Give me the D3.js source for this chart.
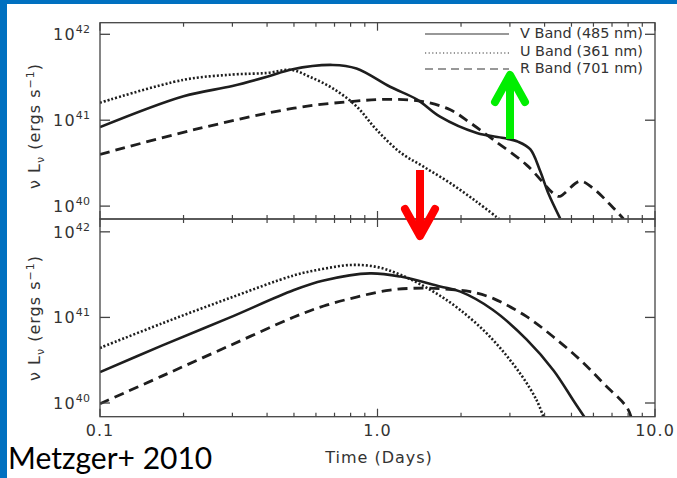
<!DOCTYPE html>
<html>
<head>
<meta charset="utf-8">
<script src="https://cdn.jsdelivr.net/npm/d3@7"></script>
<style>
  body { margin: 0; background: #0070c0; }
  svg { display: block; }
</style>
</head>
<body>
<div id="chart"></div>
<script>
// time in days, luminosity nu*L_nu in erg/s
var vTopT = [0.1, 0.2, 0.3, 0.4, 0.49, 0.69, 0.84, 1.11, 1.39, 1.68, 2.28, 2.85, 3.22, 3.55, 3.85, 4.13, 4.55];
var vTopL = [8.3e40, 1.9e41, 2.5e41, 3.2e41, 3.9e41, 4.4e41, 4.0e41, 2.45e41, 1.74e41, 1.1e41, 7.1e40, 6.2e40, 5.6e40, 4.6e40, 2.6e40, 1.4e40, 7.2e39];
var uTopT = [0.1, 0.2, 0.3, 0.4, 0.49, 0.57, 0.69, 0.84, 0.99, 1.21, 1.46, 1.83, 2.28, 2.74];
var uTopL = [1.6e41, 2.95e41, 3.4e41, 3.55e41, 3.85e41, 3.2e41, 2.35e41, 1.45e41, 7.8e40, 4.2e40, 2.9e40, 1.85e40, 1.12e40, 7.1e39];
var rTopT = [0.1, 0.22, 0.5, 0.8, 1.11, 1.46, 1.83, 2.16, 2.62, 3.45, 4.37, 4.55, 5.37, 6.0, 7.08, 7.7];
var rTopL = [4.0e40, 7.8e40, 1.38e41, 1.65e41, 1.75e41, 1.65e41, 1.32e41, 9.3e40, 5.9e40, 3.0e40, 1.35e40, 1.3e40, 1.95e40, 1.6e40, 9.5e39, 7.1e39];

var vBotT = [0.1, 0.167, 0.29, 0.5, 0.64, 0.94, 1.21, 1.68, 1.99, 2.6, 3.45, 4.31, 5.08, 5.56];
var vBotL = [2.3e40, 4.68e40, 9.8e40, 2.09e41, 2.7e41, 3.27e41, 3.0e41, 2.3e41, 2.0e41, 1.23e41, 5.5e40, 2.4e40, 1.07e40, 6.9e39];
var uBotT = [0.1, 0.167, 0.29, 0.5, 0.64, 0.8, 0.99, 1.21, 1.55, 1.95, 2.55, 3.27, 3.75, 3.96];
var uBotL = [4.4e40, 8.5e40, 1.66e41, 3.1e41, 3.7e41, 4.1e41, 3.9e41, 3.15e41, 2.1e41, 1.28e41, 5.9e40, 2.2e40, 1.07e40, 6.9e39];
var rBotT = [0.1, 0.167, 0.29, 0.5, 0.64, 0.84, 1.11, 1.46, 1.9, 2.16, 2.62, 3.45, 4.31, 5.37, 6.52, 7.92, 8.2];
var rBotL = [9.8e39, 2.06e40, 4.6e40, 1.01e41, 1.36e41, 1.73e41, 2.09e41, 2.2e41, 2.1e41, 2.0e41, 1.66e41, 1.02e41, 5.9e40, 3.2e40, 1.7e40, 8.9e39, 6.9e39];

var xTickLabels = ["0.1", "1.0", "10.0"];
var yTickExps = [42, 41, 40];
var legendNames = ["V Band (485 nm)", "U Band (361 nm)", "R Band (701 nm)"];

var w = 677, h = 478;
var left = 100, right = 655;

var svg = d3.select("#chart").append("svg")
  .attr("width", w).attr("height", h);

svg.append("rect").attr("x", 7).attr("y", 4).attr("width", w - 7).attr("height", h - 4).attr("fill", "#fff");

var x = d3.scaleLog().domain([0.1, 10]).range([left, right]);

var styles = [
  {dash: null, width: 2.6},
  {dash: "2,2", width: 2.6},
  {dash: "10,6", width: 2.8}
];

var panels = [
  {top: 22.7, bottom: 219, dom: [Math.pow(10, 39.85), Math.pow(10, 42.135)],
   series: [[vTopT, vTopL], [uTopT, uTopL], [rTopT, rTopL]], yc: 126},
  {top: 219, bottom: 416.7, dom: [Math.pow(10, 39.84), Math.pow(10, 42.15)],
   series: [[vBotT, vBotL], [uBotT, uBotL], [rBotT, rBotL]], yc: 318}
];

var ink = "#444";

panels.forEach(function(p, pi) {
  var y = d3.scaleLog().domain(p.dom).range([p.bottom, p.top]);

  svg.append("clipPath").attr("id", "clip" + pi)
    .append("rect").attr("x", left).attr("y", p.top)
    .attr("width", right - left).attr("height", p.bottom - p.top);

  var line = d3.line()
    .x(function(d) { return x(d[0]); })
    .y(function(d) { return y(d[1]); })
    .curve(d3.curveCatmullRom.alpha(0.5));

  p.series.forEach(function(s, i) {
    var pts = s[0].map(function(t, k) { return [t, s[1][k]]; });
    svg.append("path")
      .attr("d", line(pts))
      .attr("clip-path", "url(#clip" + pi + ")")
      .attr("fill", "none")
      .attr("stroke", "#1e1e1e")
      .attr("stroke-width", styles[i].width)
      .attr("stroke-dasharray", styles[i].dash);
  });

  // frame
  svg.append("rect").attr("x", left).attr("y", p.top)
    .attr("width", right - left).attr("height", p.bottom - p.top)
    .attr("fill", "none").attr("stroke", ink).attr("stroke-width", 1.3);

  // x ticks, pointing inward
  x.ticks().forEach(function(t) {
    var major = Math.abs(Math.log10(t) - Math.round(Math.log10(t))) < 1e-6;
    var len = major ? 8 : 4;
    [[p.top, 1], [p.bottom, -1]].forEach(function(e) {
      svg.append("line")
        .attr("x1", x(t)).attr("x2", x(t))
        .attr("y1", e[0]).attr("y2", e[0] + e[1] * len)
        .attr("stroke", ink).attr("stroke-width", 1.2);
    });
  });

  // y ticks + labels
  yTickExps.forEach(function(e) {
    var yy = y(Math.pow(10, e));
    svg.append("line").attr("x1", left).attr("x2", left + 10)
      .attr("y1", yy).attr("y2", yy).attr("stroke", ink).attr("stroke-width", 1.3);
    svg.append("line").attr("x1", right).attr("x2", right - 10)
      .attr("y1", yy).attr("y2", yy).attr("stroke", ink).attr("stroke-width", 1.3);
    var tx = svg.append("text")
      .attr("x", 53).attr("y", yy + 6)
      .attr("font-family", "DejaVu Sans").attr("font-size", 16)
      .attr("letter-spacing", 1.2)
      .attr("fill", "#333");
    tx.append("tspan").text("10");
    tx.append("tspan").attr("dy", -7).attr("font-size", 11).attr("letter-spacing", 0.3).text(e);
  });

  // y label
  var lab = svg.append("text")
    .attr("transform", "translate(40," + p.yc + ") rotate(-90)")
    .attr("text-anchor", "middle")
    .attr("font-family", "DejaVu Sans").attr("font-size", 16)
    .attr("letter-spacing", 1)
    .attr("fill", "#333");
  lab.append("tspan").text("\u03bd L");
  lab.append("tspan").attr("dy", 4).attr("font-size", 11).text("\u03bd");
  lab.append("tspan").attr("dy", -4).text(" (ergs s");
  lab.append("tspan").attr("dy", -6).attr("font-size", 11).text("\u22121");
  lab.append("tspan").attr("dy", 6).text(")");
});

// x tick labels
[0.1, 1, 10].forEach(function(t, i) {
  svg.append("text")
    .attr("x", x(t)).attr("y", 436)
    .attr("text-anchor", "middle")
    .attr("font-family", "DejaVu Sans").attr("font-size", 16)
    .attr("letter-spacing", 1)
    .attr("fill", "#333")
    .text(xTickLabels[i]);
});

svg.append("text")
  .attr("x", 379).attr("y", 463)
  .attr("text-anchor", "middle")
  .attr("font-family", "DejaVu Sans").attr("font-size", 16)
  .attr("letter-spacing", 1)
  .attr("fill", "#333")
  .text("Time (Days)");

// legend
legendNames.forEach(function(name, i) {
  var ly = [34, 53, 69][i];
  svg.append("line")
    .attr("x1", 425).attr("x2", 509).attr("y1", ly).attr("y2", ly)
    .attr("stroke", "#333").attr("stroke-width", 1.2)
    .attr("stroke-dasharray", [null, "1.2,2.4", "8,5"][i]);
  svg.append("text")
    .attr("x", 520).attr("y", [38, 56, 73][i])
    .attr("font-family", "DejaVu Sans").attr("font-size", 13.5)
    .attr("textLength", 123).attr("lengthAdjust", "spacingAndGlyphs")
    .attr("fill", "#333")
    .text(name);
});

// annotation arrows
function arrow(color, x0, yTail, yTip, dir) {
  var g = svg.append("g").attr("stroke", color).attr("stroke-width", 8)
    .attr("stroke-linecap", "round").attr("stroke-linejoin", "round").attr("fill", "none");
  g.append("line").attr("x1", x0).attr("x2", x0).attr("y1", yTail).attr("y2", yTip)
    .attr("stroke-linecap", "butt");
  g.append("polyline").attr("points",
    (x0 - 15) + "," + (yTip - dir * 27) + " " + x0 + "," + yTip + " " + (x0 + 15) + "," + (yTip - dir * 27));
}
arrow("#00ee00", 510, 139, 75, -1);
arrow("#ff0000", 420, 170, 236, 1);

svg.append("text")
  .attr("x", 8).attr("y", 469)
  .attr("font-family", "Lato").attr("font-size", 30)
  .attr("fill", "#000")
  .text("Metzger+ 2010");
</script>
</body>
</html>
